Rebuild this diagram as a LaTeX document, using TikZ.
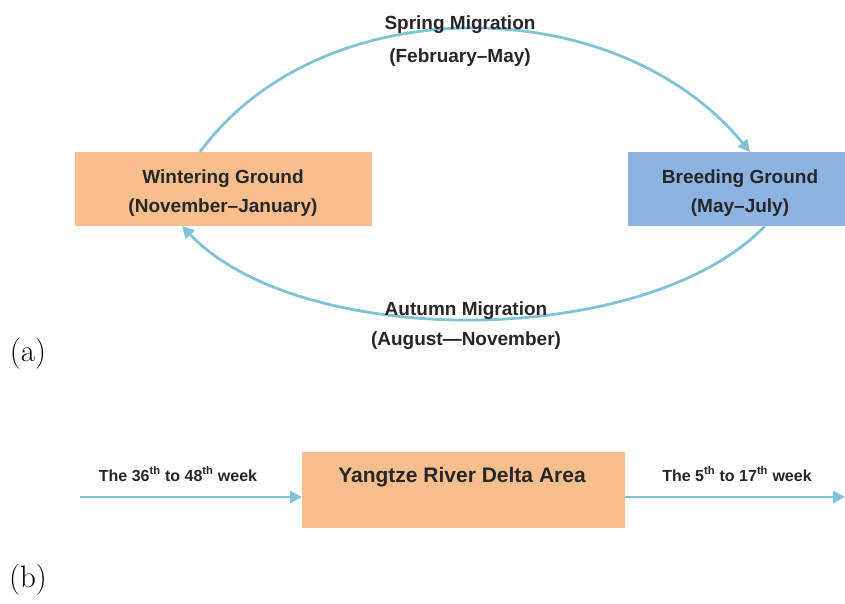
\documentclass[tikz,border=0pt]{standalone}
\usepackage{fontspec}
\setmainfont{Liberation Sans}
\newfontfamily\lmfont{Latin Modern Roman}
\usetikzlibrary{arrows.meta}
\definecolor{boxorange}{HTML}{F9BE8E}
\definecolor{boxblue}{HTML}{8DB3E2}
\definecolor{arrowc}{HTML}{80C3D2}
\begin{document}
\begin{tikzpicture}[x=1pt,y=-1pt,
  lbl/.style={font=\bfseries\fontsize{19}{22}\selectfont,text=black!85,align=center},
  wk/.style={font=\bfseries\fontsize{16}{19}\selectfont,text=black!85},
  flow/.style={draw=arrowc,line width=2.8pt,-{Triangle[length=12pt,width=12pt]}},
  panel/.style={font=\lmfont\fontsize{31}{34}\selectfont}]
\useasboundingbox (0,0) rectangle (845,604);
% part (a)
\fill[boxorange] (75,152) rectangle (372,226);
\fill[boxblue] (628,152) rectangle (845,226);
\node[lbl] (win) at (223,193) {Wintering Ground\\[7pt](November--January)};
\node[lbl] (bre) at (740,193) {Breeding Ground\\[7pt](May--July)};
\coordinate (wt) at (200,152);
\coordinate (bt) at (750,152);
\coordinate (bb) at (765,226);
\coordinate (wb) at (182,226);
\draw[flow] (wt) .. controls (320,-12) and (615,-12) .. (bt);
\draw[flow] (bb) .. controls (645,350) and (300,350) .. (wb);
\node[lbl] (spr) at (460,41) {Spring Migration\\[11pt](February--May)};
\node[lbl] (aut) at (466,326) {Autumn Migration\\[8pt](August---November)};
\node[panel] (pa) at (28,354) {(a)};
% part (b)
\fill[boxorange] (302,452) rectangle (625,528);
\node[font=\bfseries\fontsize{21}{24}\selectfont,text=black!85] (yrd) at (462,477) {Yangtze River Delta Area};
\coordinate (ls) at (80,497);
\coordinate (le) at (302,497);
\coordinate (rs) at (625,497);
\coordinate (re) at (845,497);
\draw[flow,line width=2.2pt] (ls) -- (le);
\draw[flow,line width=2.2pt] (rs) -- (re);
\node[wk] (l1) at (178,474) {The 36\textsuperscript{th} to 48\textsuperscript{th} week};
\node[wk] (l2) at (737,474) {The 5\textsuperscript{th} to 17\textsuperscript{th} week};
\node[panel] (pb) at (28,580) {(b)};
\end{tikzpicture}
\end{document}
